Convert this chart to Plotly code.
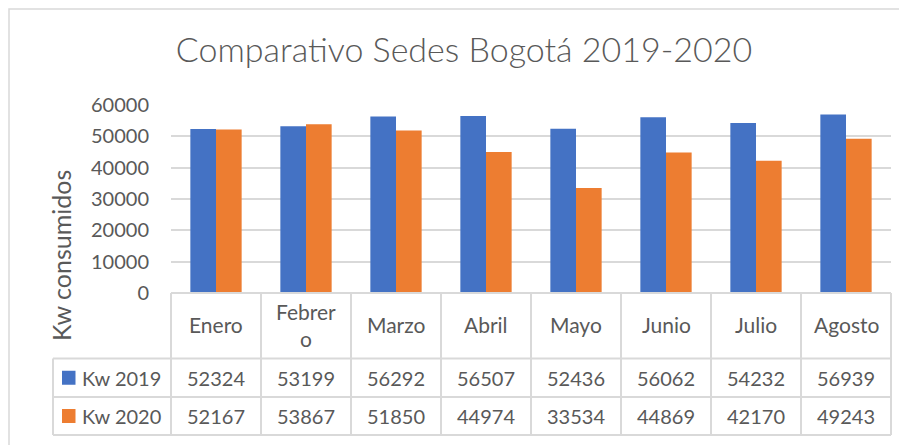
import plotly.graph_objects as go

months = ["Enero", "Febrero", "Marzo", "Abril", "Mayo", "Junio", "Julio", "Agosto"]
month_labels = ["Enero", "Febrer<br>o", "Marzo", "Abril", "Mayo", "Junio", "Julio", "Agosto"]
series_names = ["Kw 2019", "Kw 2020"]
kw_2019 = [52324, 53199, 56292, 56507, 52436, 56062, 54232, 56939]
kw_2020 = [52167, 53867, 51850, 44974, 33534, 44869, 42170, 49243]
y_ticks = [0, 10000, 20000, 30000, 40000, 50000, 60000]

colors = ["#4472C4", "#ED7D31"]
TXT = "#595959"
GRID = "#D9D9D9"
FONT = "Lato"

W, H = 907, 445
OFF = 8  # page body margin offset
L = 171 - OFF
T = 105 - OFF
plot_w = 720
plot_h = 188
R = W - L - plot_w
B = H - T - plot_h


def px_x(p):
    return (p - OFF - L) / plot_w


def px_y(p):
    return (H - B - (p - OFF)) / plot_h


fig = go.Figure()
for name, vals, c in zip(series_names, [kw_2019, kw_2020], colors):
    fig.add_trace(go.Bar(x=months, y=vals, name=name, marker=dict(color=c, line=dict(width=0)),
                         showlegend=False, hoverinfo="x+y+name"))

shapes = []
annotations = []

row_tops = [293, 358.5, 397, 435]
leg_left = 53


def hline(x0, x1, y):
    shapes.append(dict(type="line", xref="paper", yref="paper", x0=x0, x1=x1, y0=y, y1=y,
                       line=dict(color=GRID, width=2), layer="above"))


def vline(x, y0, y1):
    shapes.append(dict(type="line", xref="paper", yref="paper", x0=x, x1=x, y0=y0, y1=y1,
                       line=dict(color=GRID, width=2), layer="above"))


hline(0, 1, px_y(row_tops[0]))
for r in row_tops[1:]:
    hline(px_x(leg_left), 1, px_y(r))
n = len(months)
for i in range(n + 1):
    vline(i / n, px_y(row_tops[0]), px_y(row_tops[3]))
vline(px_x(leg_left), px_y(row_tops[1]), px_y(row_tops[3]))

hdr_center = px_y((row_tops[0] + row_tops[1]) / 2 - 1)
for m, lab in zip(months, month_labels):
    annotations.append(dict(x=m, xref="x", y=hdr_center, yref="paper", text=lab, showarrow=False,
                            font=dict(family=FONT, size=21, color=TXT), xanchor="center",
                            yanchor="middle", align="center"))

for ri, (name, vals, c) in enumerate(zip(series_names, [kw_2019, kw_2020], colors)):
    ycp = (row_tops[ri + 1] + row_tops[ri + 2]) / 2
    yc = px_y(ycp)
    for m, v in zip(months, vals):
        annotations.append(dict(x=m, xref="x", y=yc, yref="paper", text=str(v), showarrow=False,
                                font=dict(family=FONT, size=20, color=TXT), xanchor="center",
                                yanchor="middle"))
    annotations.append(dict(x=px_x(80), xref="paper", y=yc, yref="paper", text=name, showarrow=False,
                            font=dict(family=FONT, size=20, color=TXT), xanchor="left", yanchor="middle"))
    shapes.append(dict(type="rect", xref="paper", yref="paper", x0=px_x(62), x1=px_x(75.5),
                       y0=px_y(ycp + 7), y1=px_y(ycp - 7), fillcolor=c, line=dict(width=0)))

annotations.append(dict(x=px_x(61), xref="paper", y=px_y(255), yref="paper", text="Kw consumidos",
                        showarrow=False, textangle=-90, font=dict(family=FONT, size=25, color=TXT),
                        xanchor="center", yanchor="middle"))

# chart border (drawn at the figure's top-left edge)
shapes.append(dict(type="rect", xref="paper", yref="paper", x0=px_x(OFF + 1), x1=px_x(W + 30),
                   y0=px_y(H + 30), y1=px_y(OFF + 1), line=dict(color=GRID, width=1.5),
                   fillcolor="rgba(0,0,0,0)", layer="below"))

fig.update_layout(
    width=W, height=H,
    margin=dict(l=L, r=R, t=T, b=B),
    paper_bgcolor="white", plot_bgcolor="white",
    barmode="group", bargap=0.43, bargroupgap=0,
    title=dict(text="Comparativo Sedes Bogotá 2019-2020", x=(464 - OFF) / W, xanchor="center",
               y=1 - (50 - OFF) / H, yanchor="middle", yref="container",
               font=dict(family=FONT, size=34, color=TXT, weight=300)),
    xaxis=dict(showticklabels=False, showgrid=False, zeroline=False, showline=False,
               range=[-0.5, n - 0.5], fixedrange=True),
    yaxis=dict(range=[0, 60000], tickvals=y_ticks, ticktext=[str(t) for t in y_ticks],
               showgrid=True, gridcolor=GRID, gridwidth=2, zeroline=False, showline=False,
               ticks="", ticklabelstandoff=21,
               tickfont=dict(family=FONT, size=20, color=TXT), fixedrange=True),
    shapes=shapes, annotations=annotations,
)

fig.write_html("out.html")
